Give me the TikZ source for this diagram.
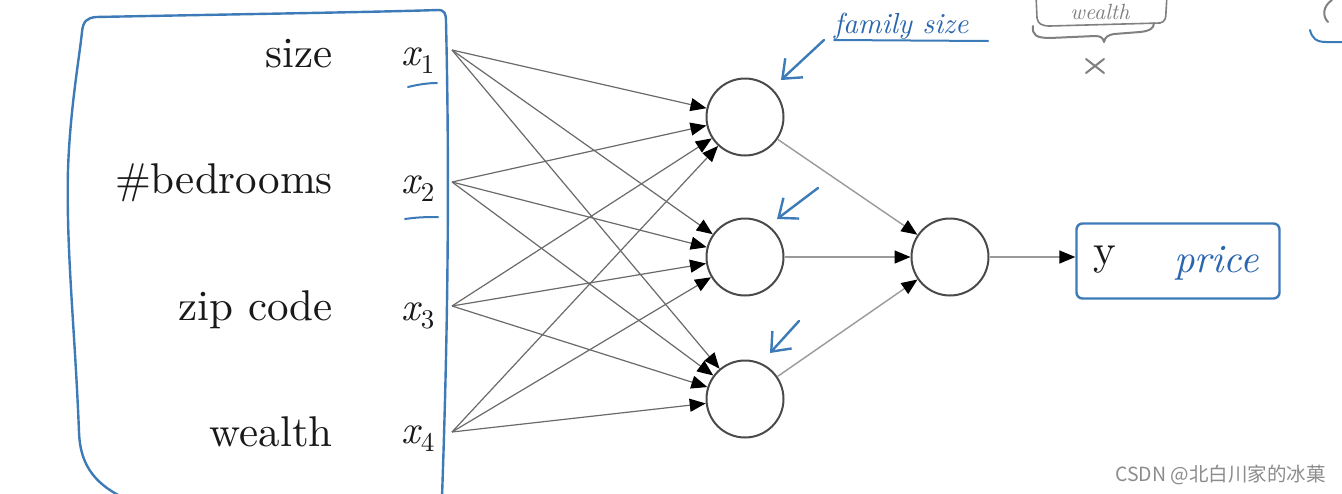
\documentclass[tikz,border=0pt]{standalone}
\usepackage{fontspec}
\newfontfamily\cjk{Noto Sans CJK SC}
\newfontfamily\labelfont{lmroman10-regular.otf}
\newfontfamily\handfont{lmroman10-italic.otf}
\newcommand\xsubscr[1]{{\handfont\fontsize{40}{44}\selectfont x}\kern1pt\raisebox{-8pt}{\labelfont\fontsize{27}{30}\selectfont #1}}
\usetikzlibrary{arrows.meta,calc}
\definecolor{penblue}{HTML}{3D7AB8}
\definecolor{inkblue}{HTML}{2A66AE}
\definecolor{wire}{HTML}{6A6A6A}
\definecolor{wirelight}{HTML}{9A9A9A}
\definecolor{ring}{HTML}{4A4A4A}
\definecolor{pencil}{HTML}{808080}
\begin{document}
\begin{tikzpicture}[x=1pt,y=-1pt,
  lbl/.style={font=\labelfont\fontsize{43}{48}\selectfont, inner sep=0pt, text=black!90},
  mlbl/.style={inner sep=0pt, text=black!90},
  neuron/.style={circle, draw=ring, line width=2pt, minimum size=77pt, inner sep=0pt},
  tip/.style={-{Triangle[length=16pt,width=13pt,color=black]}},
  wireto/.style={draw=wire, line width=1.2pt, tip},
  wireout/.style={draw=wirelight, line width=1.4pt, tip},
  pen/.style={draw=penblue, line width=2.4pt, line cap=round, line join=round},
  penarrow/.style={pen, -{Straight Barb[length=16pt,width=26pt]}},
  graypen/.style={draw=pencil, line width=2pt, line cap=round, line join=round}
]
\useasboundingbox (0,0) rectangle (1342,493);
\fill[white] (0,0) rectangle (1342,493);

% blue hand-drawn frame around the inputs
\draw[pen] (122,497) .. controls (92,482) and (80,462) .. (79,432)
  .. controls (75,330) and (66,250) .. (68,170)
  .. controls (70,110) and (79,60) .. (82,32)
  .. controls (83,21) and (87,18) .. (96,17)
  .. controls (250,14) and (380,12) .. (438,10)
  .. controls (445,10) and (446,14) .. (446,22)
  .. controls (449,150) and (449,300) .. (442,497);

% input labels
\node[lbl, anchor=base east] (n1) at (333,67) {size};
\node[lbl, anchor=base east] (n2) at (333,193) {\#bedrooms};
\node[lbl, anchor=base east] (n3) at (333,320) {zip code};
\node[lbl, anchor=base east] (n4) at (333,446) {wealth};
\node[mlbl, anchor=base west] (x1) at (401,65) {\xsubscr{1}};
\node[mlbl, anchor=base west] (x2) at (401,193) {\xsubscr{2}};
\node[mlbl, anchor=base west] (x3) at (401,320) {\xsubscr{3}};
\node[mlbl, anchor=base west] (x4) at (401,443) {\xsubscr{4}};

% blue underlines of x1, x2
\draw[pen, line width=2pt] (408,87) .. controls (420,84) and (430,83) .. (437,83);
\draw[pen, line width=2pt] (405,219) .. controls (418,217) and (430,217) .. (438,217);

% input points
\coordinate (p1) at (452,50);
\coordinate (p2) at (452,182);
\coordinate (p3) at (452,306);
\coordinate (p4) at (452,432);

% neurons
\node[neuron] (h1) at (745,117) {};
\node[neuron] (h2) at (745,257) {};
\node[neuron] (h3) at (745,399) {};
\node[neuron] (o) at (950,257) {};

% output box
\node[draw=penblue, line width=2.4pt, rounded corners=6pt, minimum width=203pt, minimum height=75pt, inner sep=0pt] (ybox) at (1178,261) {};
\node[lbl, anchor=base west] (y) at (1093,264) {y};
\node[anchor=base west, inner sep=0pt, text=inkblue, font=\handfont\fontsize{40}{44}\selectfont] (price) at (1174,272) {price};

% connections
\foreach \i in {1,...,4}
  \foreach \j in {1,2,3}
    \draw[wireto] (p\i) -- (h\j);
\foreach \j in {1,2,3}
  \draw[wireout] (h\j) -- (o);
\draw[wireout] (o) -- (o -| ybox.west);

% blue annotation arrows
\coordinate (a1s) at (824,40);
\coordinate (a1e) at (781,80);
\coordinate (a2s) at (818,188);
\coordinate (a2e) at (777,219);
\coordinate (a3s) at (799,321);
\coordinate (a3e) at (770,353);
\draw[penarrow] (a1s) -- (a1e);
\draw[penarrow] (a2s) -- (a2e);
\draw[penarrow] (a3s) -- (a3e);

% "family size" note
\node[anchor=base west, inner sep=0pt, text=inkblue, font=\handfont\fontsize{29}{33}\selectfont] (fam) at (834,33) {family size};
\draw[pen, line width=2pt] (834,40) -- (988,41);

% pencil box with brace and cross at the top
\draw[graypen, line width=1.6pt] (1036,-5) -- (1037,18) .. controls (1038,24) and (1042,26) .. (1050,26) -- (1160,23) .. controls (1165,22) and (1166,18) .. (1166,12) -- (1167,-5);
\node[anchor=base, inner sep=0pt, text=pencil, font=\handfont\fontsize{22}{26}\selectfont] (wl) at (1100,19) {wealth};
\draw[graypen] (1033,26) .. controls (1032,35) and (1036,38) .. (1050,38)
  -- (1095,36) .. controls (1101,36) and (1103,38) .. (1104,42)
  .. controls (1105,37) and (1108,35) .. (1114,34)
  -- (1140,32) .. controls (1150,31) and (1154,28) .. (1154,23);
\coordinate (cx) at (1095,66);
\draw[graypen] ($(cx)+(-9,-7)$) -- ($(cx)+(9,7)$);
\draw[graypen] ($(cx)+(-9,7)$) -- ($(cx)+(9,-7)$);

% partial marks at the top right
\draw[graypen] (1332,0) .. controls (1323,6) and (1322,16) .. (1328,22);
\draw[pen, line width=2pt] (1310,30) .. controls (1312,38) and (1316,42) .. (1326,42) -- (1342,42);

% watermark
\node[anchor=base west, inner sep=0pt, text=black!45, font=\cjk\fontsize{19.5}{23}\selectfont] (wm) at (1115,481) {CSDN @北白川家的冰菓};
\end{tikzpicture}
\end{document}
